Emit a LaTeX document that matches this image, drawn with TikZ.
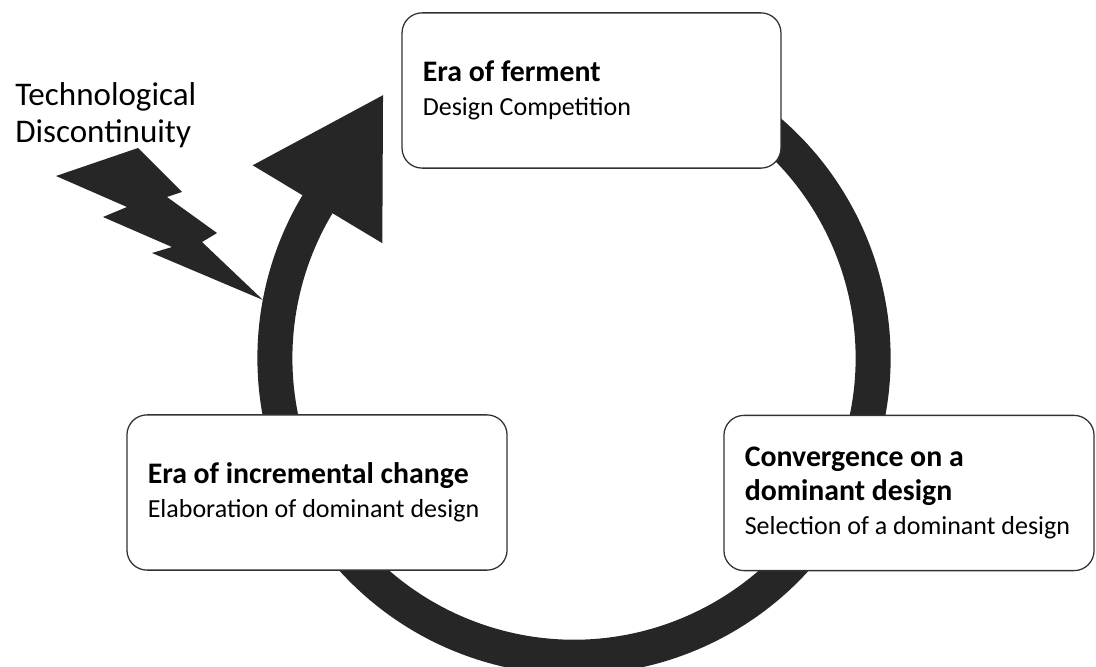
\documentclass[tikz,border=0pt]{standalone}
\usepackage{fontspec}
\setmainfont{Carlito}
\usetikzlibrary{arrows.meta}

\definecolor{ringgray}{RGB}{38,38,38}
\definecolor{boxline}{RGB}{50,50,50}

\newcommand{\eratitle}[1]{{\fontsize{21.2}{24.5}\selectfont\bfseries #1}}

\begin{document}
\begin{tikzpicture}[x=0.025cm,y=0.025cm]
        \tikzstyle{erabox} = [rectangle, rounded corners=0.5cm, draw=boxline, line width=0.9pt, fill=white, minimum height=3.88cm, inner xsep=0.52cm, align=flush left, font=\fontsize{18.5}{24.5}\selectfont]
        \tikzstyle{ring} = [ringgray, line width=0.875cm, -{Triangle[length=3.18cm,width=3.78cm,line width=0pt]}]
        \useasboundingbox (0,0) rectangle (1096,666);
        \coordinate (hub) at (574,308);

        % the cycle, running clockwise and ending in a big arrow head
        \draw [ring] (hub) ++(70:299) arc [start angle=70, end angle=-211, radius=7.475cm] -- ++(59:127);

        % lightning strike
        \fill [ringgray] (56,490) -- (138,518) -- (182,474) -- (167,469) -- (217,433) -- (202,424) -- (263,366)
              -- (152,413) -- (172,419) -- (103,449) -- (127,459) -- cycle;

        \node (discontinuity) [anchor=base west, align=left, inner sep=0pt, font=\fontsize{23.5}{27}\selectfont] at (15,523) {Technological\\Discontinuity};

        \node (ferment) [erabox, text width=8.43cm] at (591.5,575.5) {\eratitle{Era of ferment}\\Design Competition};
        \node (incremental) [erabox, text width=8.46cm] at (317,173.5) {\eratitle{Era of incremental change}\\Elaboration of dominant design};
        \node (convergence) [erabox, text width=8.21cm] at (909,173) {\eratitle{Convergence on a}\\\eratitle{dominant design}\\Selection of a dominant design};
    \end{tikzpicture}
\end{document}
